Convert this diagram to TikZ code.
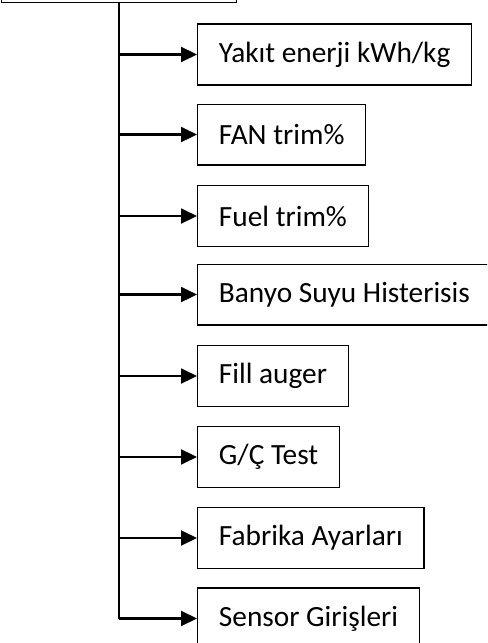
\documentclass[tikz,border=0pt]{standalone}
\usepackage{fontspec}
\setmainfont{Carlito}
\usepackage{tikz}
\usetikzlibrary{arrows.meta}

\begin{document}
\begin{tikzpicture}[
    box/.style={draw, line width=0.5pt, minimum height=0.8cm, inner xsep=0.28cm, anchor=west, font=\fontsize{11}{13}\selectfont},
    arr/.style={-{Triangle[length=6pt,width=5.6pt]}, line width=0.8pt}]
    \useasboundingbox (0,0) rectangle (6.42,-8.475);
    \clip (0,0) rectangle (6.42,-8.475);
    % parent box, only its lower edge shows
    \node[draw, line width=0.5pt, minimum width=3.1cm, minimum height=0.8cm, anchor=south] (menu) at (1.568,-0.04) {};
    % sub menu items
    \node[box] (yakit) at (2.597,-0.718) {Yakıt enerji kWh/kg};
    \node[box] (fan) at (2.597,-1.773) {FAN trim\%};
    \node[box] (fuel) at (2.597,-2.847) {Fuel trim\%};
    \node[box] (banyo) at (2.597,-3.882) {Banyo Suyu Histerisis};
    \node[box] (fill) at (2.597,-4.956) {Fill auger};
    \node[box] (test) at (2.597,-6.023) {G/Ç Test};
    \node[box] (fabrika) at (2.597,-7.091) {Fabrika Ayarları};
    \node[box] (sensor) at (2.597,-8.152) {Sensor Girişleri};
    % vertical line down from the parent box
    \draw[line width=0.9pt] (menu.south) -- (menu.south |- sensor.west);
    % arrows to each item
    \draw[arr] (menu.south |- yakit.west) -- (yakit.west);
    \draw[arr] (menu.south |- fan.west) -- (fan.west);
    \draw[arr] (menu.south |- fuel.west) -- (fuel.west);
    \draw[arr] (menu.south |- banyo.west) -- (banyo.west);
    \draw[arr] (menu.south |- fill.west) -- (fill.west);
    \draw[arr] (menu.south |- test.west) -- (test.west);
    \draw[arr] (menu.south |- fabrika.west) -- (fabrika.west);
    \draw[arr] (menu.south |- sensor.west) -- (sensor.west);
\end{tikzpicture}
\end{document}
